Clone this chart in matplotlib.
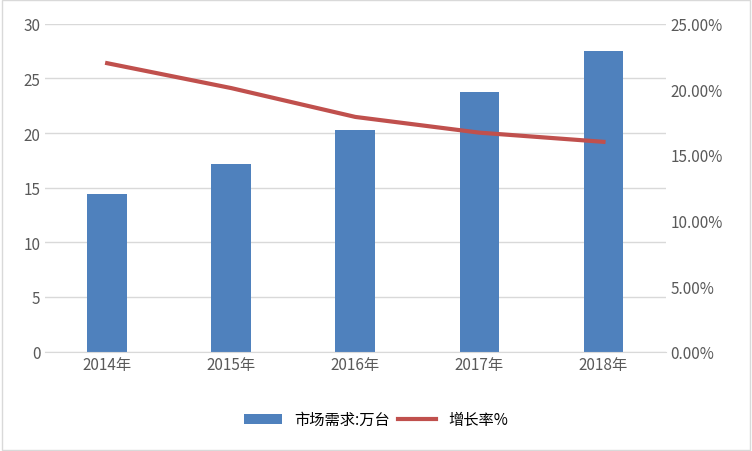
import matplotlib
matplotlib.use("Agg")
import matplotlib.pyplot as plt
from matplotlib.ticker import FuncFormatter

plt.rcParams['font.family'] = ['Noto Sans CJK SC', 'DejaVu Sans']

years = ["2014年", "2015年", "2016年", "2017年", "2018年"]
demand = [14.4, 17.2, 20.3, 23.8, 27.5]
growth = [22.0, 20.1, 17.9, 16.7, 16.0]

fig = plt.figure(figsize=(7.52, 4.52), dpi=100)
ax = fig.add_axes([0.06, 0.22, 0.825, 0.725])
ax2 = ax.twinx()
x = range(len(years))
b = ax.bar(x, demand, width=0.32, color='#4F81BD', label='市场需求:万台', zorder=2)
l, = ax2.plot(x, growth, color='#C0504D', lw=3, label='增长率%')
ax.set_ylim(0, 30)
ax.set_yticks(range(0, 31, 5))
ax2.set_ylim(0, 25)
ax2.set_yticks(range(0, 26, 5))
ax2.yaxis.set_major_formatter(FuncFormatter(lambda v, p: f"{v:.2f}%"))
ax.set_xticks(list(x))
ax.set_xticklabels(years)
ax.set_xlim(-0.5, 4.5)
ax.grid(axis='y', color='#D9D9D9', lw=1, zorder=0)
for a in (ax, ax2):
    for s in a.spines.values():
        s.set_visible(False)
    a.tick_params(length=0, labelsize=11, colors='#595959')
ax.spines['bottom'].set_visible(True)
ax.spines['bottom'].set_color('#D9D9D9')
fig.legend([b, l], ['市场需求:万台', '增长率%'], loc='lower center', ncol=2,
           frameon=False, fontsize=11, bbox_to_anchor=(0.5, 0.02),
           handlelength=2.5, columnspacing=0.5)
fig.patches.append(plt.Rectangle((0.002, 0.002), 0.996, 0.996, transform=fig.transFigure,
                                 fill=False, edgecolor='#D9D9D9', lw=1))
fig.savefig("out.png", dpi=100)
